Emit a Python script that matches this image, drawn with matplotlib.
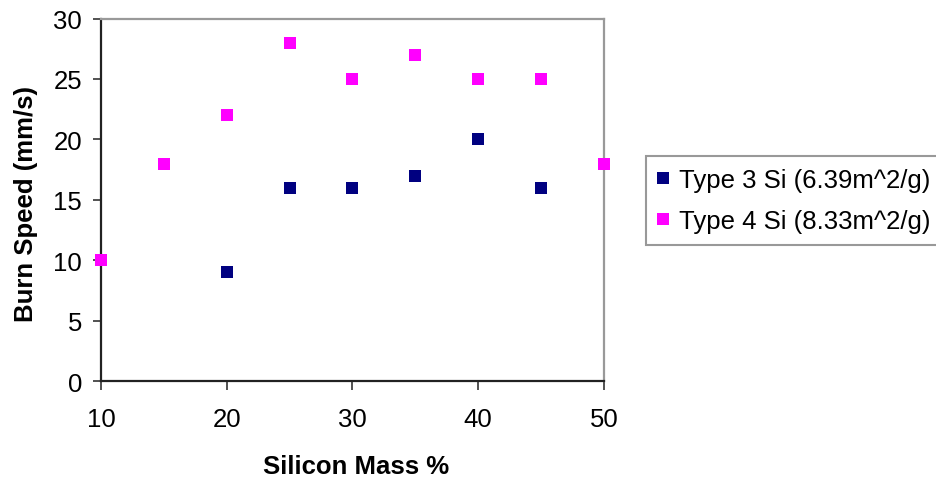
import matplotlib
matplotlib.use("Agg")
import matplotlib.pyplot as plt

plt.rcParams['font.family'] = ['Liberation Sans', 'DejaVu Sans']

type3_x = [20, 25, 30, 35, 40, 45]
type3_y = [9, 16, 16, 17, 20, 16]
type4_x = [10, 15, 20, 25, 30, 35, 40, 45, 50]
type4_y = [10, 18, 22, 28, 25, 27, 25, 25, 18]
series_names = ["Type 3 Si (6.39m^2/g)", "Type 4 Si (8.33m^2/g)"]
x_ticks = [10, 20, 30, 40, 50]
y_ticks = [0, 5, 10, 15, 20, 25, 30]
x_label = "Silicon Mass %"
y_label = "Burn Speed (mm/s)"

W, H = 937, 481
fig = plt.figure(figsize=(W / 100, H / 100), dpi=100)
ax = fig.add_axes([101 / W, 1 - 382 / H, (604 - 101) / W, (382 - 19.5) / H])

ms = 8.6
ax.plot(type3_x, type3_y, linestyle='none', marker='s', markersize=ms,
        color='#000080', markeredgewidth=0, label=series_names[0], clip_on=False, zorder=3)
ax.plot(type4_x, type4_y, linestyle='none', marker='s', markersize=ms,
        color='#FF00FF', markeredgewidth=0, label=series_names[1], clip_on=False, zorder=3)

ax.set_xlim(10, 50)
ax.set_ylim(0, 30)
ax.set_xticks(x_ticks)
ax.set_yticks(y_ticks)

fs = 18.5
ax.tick_params(axis='x', direction='out', length=6.5, width=1.2, color='#333333',
               labelsize=fs, pad=12.5)
ax.tick_params(axis='y', direction='out', length=6, width=1.2, color='#333333',
               labelsize=fs, pad=7.5)

for s in ['left', 'bottom']:
    ax.spines[s].set_color('#222222')
    ax.spines[s].set_linewidth(1.6)
for s in ['top', 'right']:
    ax.spines[s].set_color('#999999')
    ax.spines[s].set_linewidth(1.6)

ax.set_xlabel(x_label, fontsize=fs, fontweight='bold', va='center')
ax.xaxis.set_label_coords((356 - 101) / 503, (382 - 467) / 362.5)
ax.set_ylabel(y_label, fontsize=fs, fontweight='bold', va='center')
ax.yaxis.set_label_coords((26 - 101) / 503, (382 - 204) / 362.5)

leg = fig.legend(loc='upper left', bbox_to_anchor=(646 / W, 1 - 157 / H),
                 fontsize=fs, frameon=True, fancybox=False, shadow=False,
                 borderpad=0.45, handlelength=0.4, handletextpad=0.45,
                 labelspacing=0.68, borderaxespad=0, markerscale=1.0)
leg.get_frame().set_edgecolor('#808080')
leg.get_frame().set_linewidth(1.5)

fig.savefig('out.png', dpi=100)
